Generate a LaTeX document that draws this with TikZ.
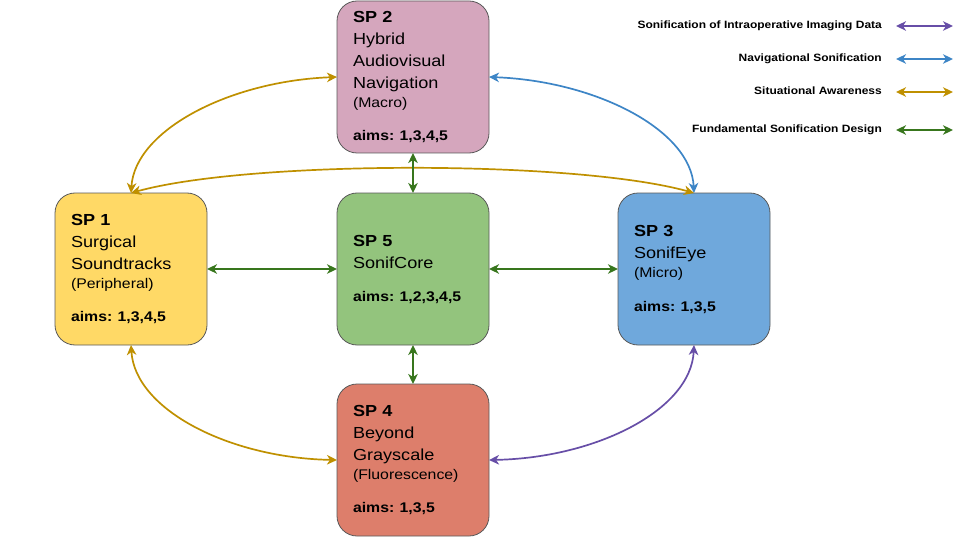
\documentclass[tikz,border=0pt]{standalone}
\usepackage{fontspec}
\setmainfont{Liberation Sans}[FakeStretch=1.13]
\usetikzlibrary{arrows.meta}
\definecolor{cspone}{HTML}{FFD966}
\definecolor{csptwo}{HTML}{D5A6BD}
\definecolor{cspthree}{HTML}{6FA8DC}
\definecolor{cspfour}{HTML}{DD7E6B}
\definecolor{cspfive}{HTML}{93C47D}
\definecolor{cgold}{HTML}{BF9000}
\definecolor{cblue}{HTML}{3D85C6}
\definecolor{cpurple}{HTML}{674EA7}
\definecolor{cgreen}{HTML}{38761D}
\definecolor{cborder}{HTML}{595959}
\newcommand{\subtxt}{\fontsize{14}{22}\selectfont}
\newcommand{\aimtxt}{\fontsize{14}{22}\selectfont\bfseries}
\frenchspacing
\begin{document}
\begin{tikzpicture}[x=1pt,y=-1pt,
  spbox/.style={draw=cborder, line width=0.8pt, rounded corners=20pt,
    minimum width=152pt, minimum height=152pt, inner xsep=16pt, inner ysep=0pt,
    text width=120pt, align=left, outer sep=0pt,
    font=\fontsize{16}{22}\selectfont\frenchspacing},
  conn/.style={line width=1.7pt, {Stealth[length=10pt,width=9.5pt,inset=3pt]}-{Stealth[length=10pt,width=9.5pt,inset=3pt]}},
  legtxt/.style={anchor=mid east, inner sep=0pt, font=\fontsize{10.6}{12}\selectfont\bfseries}
]
\useasboundingbox (0,0) rectangle (960,540);

\node[spbox, fill=csptwo] (sp2) at (413,77)
  {\textbf{SP 2}\\Hybrid\\Audiovisual\\Navigation\\[-3pt]{\subtxt (Macro)}\\[11pt]{\aimtxt aims: 1,3,4,5}};
\node[spbox, fill=cspone] (sp1) at (131,269)
  {\textbf{SP 1}\\Surgical\\Soundtracks\\[-3pt]{\subtxt (Peripheral)}\\[11pt]{\aimtxt aims: 1,3,4,5}};
\node[spbox, fill=cspfive] (sp5) at (413,269)
  {\textbf{SP 5}\\SonifCore\\[11pt]{\aimtxt aims: 1,2,3,4,5}};
\node[spbox, fill=cspthree] (sp3) at (694,269)
  {\textbf{SP 3}\\SonifEye\\[-3pt]{\subtxt (Micro)}\\[12pt]{\aimtxt aims: 1,3,5}};
\node[spbox, fill=cspfour] (sp4) at (413,460)
  {\textbf{SP 4}\\Beyond\\Grayscale\\[-3pt]{\subtxt (Fluorescence)}\\[11pt]{\aimtxt aims: 1,3,5}};

% connectors
\draw[conn, cgold] (sp1.north) .. controls +(4,-63) and +(-107,4) .. (sp2.west);
\draw[conn, cblue] (sp2.east) .. controls +(107,4) and +(-3,-63) .. (sp3.north);
\draw[conn, cgold] (sp1.north) .. controls +(119,-33) and +(-119,-33) .. (sp3.north);
\draw[conn, cgold] (sp1.south) .. controls +(4,65) and +(-107,-2) .. (sp4.west);
\draw[conn, cpurple] (sp3.south) .. controls +(-3,65) and +(107,-2) .. (sp4.east);
\draw[conn, cgreen] (sp2.south) -- (sp5.north);
\draw[conn, cgreen] (sp5.south) -- (sp4.north);
\draw[conn, cgreen] (sp1.east) -- (sp5.west);
\draw[conn, cgreen] (sp5.east) -- (sp3.west);

% legend
\node[legtxt] (lg1) at (882,26) {Sonification of Intraoperative Imaging Data};
\node[legtxt] (lg2) at (882,59) {Navigational Sonification};
\node[legtxt] (lg3) at (882,92) {Situational Awareness};
\node[legtxt] (lg4) at (882,130) {Fundamental Sonification Design};
\coordinate (la1) at (896,26); \coordinate (lb1) at (953,26);
\coordinate (la2) at (896,59); \coordinate (lb2) at (953,59);
\coordinate (la3) at (896,92); \coordinate (lb3) at (953,92);
\coordinate (la4) at (896,130); \coordinate (lb4) at (953,130);
\draw[conn, cpurple] (la1) -- (lb1);
\draw[conn, cblue] (la2) -- (lb2);
\draw[conn, cgold] (la3) -- (lb3);
\draw[conn, cgreen] (la4) -- (lb4);
\end{tikzpicture}
\end{document}
